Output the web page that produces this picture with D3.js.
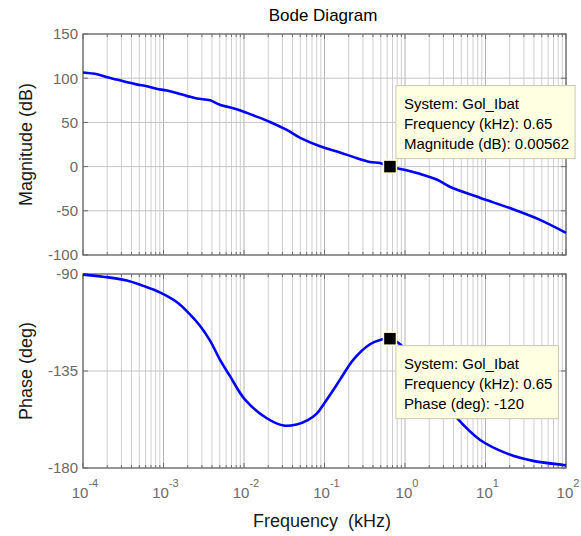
<!DOCTYPE html>
<html>
<head>
<meta charset="utf-8">
<script src="https://cdn.jsdelivr.net/npm/d3@7"></script>
<style>
  body { margin: 0; background: #fff; }
  svg { font-family: "Liberation Sans", Arial, sans-serif; }
</style>
</head>
<body>
<svg id="chart"></svg>
<script>
// frequency in kHz
let magFreq = [1e-4, 1.5e-4, 2e-4, 2.6e-4, 4.6e-4, 6.2e-4, 8.2e-4, 1.1e-3, 1.94e-3, 2.6e-3, 3.8e-3, 5e-3,
    8.1e-3, 0.013, 0.021, 0.034, 0.05, 0.088, 0.156, 0.226, 0.367, 0.49, 0.65, 0.87, 1.53, 2.48, 3.6,
    8.5, 22, 47.5, 100];
let magDb = [106.5, 104.5, 101, 98.5, 93, 91, 88, 86, 80, 77, 75, 70,
    65, 58, 50.5, 41.5, 32.5, 23, 16, 11, 5.3, 4, 0.00562, -2.6, -8.2, -14.6, -22.8,
    -35.2, -48.3, -60.3, -75];

let phaseFreq = [1e-4, 3.5e-4, 5.6e-4, 9e-4, 1.46e-3, 2.13e-3, 2.84e-3, 3.8e-3, 5e-3, 6.7e-3, 0.0103,
    0.019, 0.031, 0.045, 0.062, 0.08, 0.1, 0.125, 0.156, 0.23, 0.367, 0.49, 0.65, 0.87, 1.53, 2.5,
    4.4, 8.5, 18.3, 39, 93, 100];
let phaseDeg = [-90.3, -93, -95.5, -98.5, -103, -108.7, -114, -121, -129.6, -137.4, -148.3,
    -156.8, -160.3, -159.8, -157.8, -154.8, -149.8, -144.5, -139, -129.6, -122.6, -120.6, -120, -122.6,
    -133, -145, -156.8, -166.9, -173.2, -176.7, -178.6, -178.8];

let magTicks = [-100, -50, 0, 50, 100, 150];
let phaseTicks = [-180, -135, -90];
let decadeTicks = [-4, -3, -2, -1, 0, 1, 2];

let tipFreq = 0.65;
let tipMag = 0.00562;
let tipPhase = -120;
let magTipLines = ['System: Gol_Ibat', 'Frequency (kHz): 0.65', 'Magnitude (dB): 0.00562'];
let phaseTipLines = ['System: Gol_Ibat', 'Frequency (kHz): 0.65', 'Phase (deg): -120'];

let width = 581;
let height = 536;
let left = 83;
let right = 566;

let svg = d3.select('#chart').attr('width', width).attr('height', height);

let xScale = d3.scaleLog().domain([1e-4, 100]).range([left, right]);
let magScale = d3.scaleLinear().domain([-100, 150]).range([255, 34]);
let phaseScale = d3.scaleLinear().domain([-180, -90]).range([468, 274]);

// all minor + major frequencies
let gridFreqs = [];
for (let e = -4; e < 2; e++) {
    for (let m = 1; m < 10; m++) gridFreqs.push(m * Math.pow(10, e));
}
gridFreqs.push(100);

let isDecade = (d) => Math.abs(Math.log10(d) - Math.round(Math.log10(d))) < 1e-9;

let drawPanel = (yScale, ticks) => {
    let y0 = yScale.range()[0];
    let y1 = yScale.range()[1];
    let g = svg.append('g');

    // vertical grid
    g.selectAll('line.vgrid')
        .data(gridFreqs)
        .enter()
        .append('line')
        .attr('x1', (d) => xScale(d))
        .attr('x2', (d) => xScale(d))
        .attr('y1', y0)
        .attr('y2', y1)
        .attr('stroke', (d) => (isDecade(d) ? '#b4b4b4' : '#cfcfcf'))
        .attr('stroke-width', 1);

    // horizontal grid
    g.selectAll('line.hgrid')
        .data(ticks)
        .enter()
        .append('line')
        .attr('x1', left)
        .attr('x2', right)
        .attr('y1', (d) => yScale(d))
        .attr('y2', (d) => yScale(d))
        .attr('stroke', '#c4c4c4')
        .attr('stroke-width', 1);

    // minor ticks top and bottom
    [y0, y1].forEach((yy, i) => {
        let dir = i === 0 ? -1 : 1;
        g.selectAll(null)
            .data(gridFreqs)
            .enter()
            .append('line')
            .attr('x1', (d) => xScale(d))
            .attr('x2', (d) => xScale(d))
            .attr('y1', yy)
            .attr('y2', (d) => yy + dir * (isDecade(d) ? 5 : 3))
            .attr('stroke', '#6e6e6e');
    });

    // y ticks left and right
    [left, right].forEach((xx, i) => {
        let dir = i === 0 ? 1 : -1;
        g.selectAll(null)
            .data(ticks)
            .enter()
            .append('line')
            .attr('x1', xx)
            .attr('x2', xx + dir * 5)
            .attr('y1', (d) => yScale(d))
            .attr('y2', (d) => yScale(d))
            .attr('stroke', '#6e6e6e');
    });

    g.append('rect')
        .attr('x', left)
        .attr('y', y1)
        .attr('width', right - left)
        .attr('height', y0 - y1)
        .attr('fill', 'none')
        .attr('stroke', '#6e6e6e')
        .attr('stroke-width', 1.3);

    g.selectAll('text.ytick')
        .data(ticks)
        .enter()
        .append('text')
        .attr('x', left - 5)
        .attr('y', (d) => yScale(d))
        .attr('dy', '0.36em')
        .attr('text-anchor', 'end')
        .attr('font-size', 15)
        .attr('fill', '#6a6a6a')
        .text((d) => d);
};

drawPanel(magScale, magTicks);
drawPanel(phaseScale, phaseTicks);

let line = (yScale) => d3.line()
    .x((d) => xScale(d[0]))
    .y((d) => yScale(d[1]))
    .curve(d3.curveCatmullRom.alpha(0.5));

svg.append('path')
    .datum(d3.zip(magFreq, magDb))
    .attr('d', line(magScale))
    .attr('fill', 'none')
    .attr('stroke', '#0000ff')
    .attr('stroke-width', 2.6);

svg.append('path')
    .datum(d3.zip(phaseFreq, phaseDeg))
    .attr('d', line(phaseScale))
    .attr('fill', 'none')
    .attr('stroke', '#0000ff')
    .attr('stroke-width', 2.6);

// x tick labels 10^n
let xl = svg.selectAll('text.xtick')
    .data(decadeTicks)
    .enter()
    .append('text')
    .attr('x', (d) => xScale(Math.pow(10, d)) + 2)
    .attr('y', 498)
    .attr('text-anchor', 'middle')
    .attr('font-size', 15)
    .attr('fill', '#6a6a6a');
xl.append('tspan').text('10');
xl.append('tspan')
    .attr('dy', -11)
    .attr('font-size', 11)
    .text((d) => d);

// titles
svg.append('text')
    .attr('x', 323)
    .attr('y', 21)
    .attr('text-anchor', 'middle')
    .attr('font-size', 17)
    .attr('fill', '#000')
    .text('Bode Diagram');

svg.append('text')
    .attr('x', 322)
    .attr('y', 527)
    .attr('text-anchor', 'middle')
    .attr('font-size', 18)
    .attr('fill', '#1a1a1a')
    .attr('xml:space', 'preserve')
    .text('Frequency  (kHz)');

svg.append('text')
    .attr('transform', `translate(32, ${(magScale.range()[0] + magScale.range()[1]) / 2}) rotate(-90)`)
    .attr('text-anchor', 'middle')
    .attr('font-size', 18)
    .attr('fill', '#1a1a1a')
    .text('Magnitude (dB)');

svg.append('text')
    .attr('transform', `translate(32, ${(phaseScale.range()[0] + phaseScale.range()[1]) / 2}) rotate(-90)`)
    .attr('text-anchor', 'middle')
    .attr('font-size', 18)
    .attr('fill', '#1a1a1a')
    .text('Phase (deg)');

// data tips
let drawTip = (yScale, value, lines, offsetY) => {
    let mx = xScale(tipFreq);
    let my = yScale(value);
    let g = svg.append('g');
    let bx = mx + 6;
    let by = my + offsetY;
    let rect = g.append('rect')
        .attr('x', bx)
        .attr('y', by)
        .attr('height', 73)
        .attr('fill', '#ffffe1')
        .attr('stroke', '#c8c8b4')
        .attr('stroke-width', 1);
    let t = g.selectAll('text')
        .data(lines)
        .enter()
        .append('text')
        .attr('x', bx + 8)
        .attr('y', (d, i) => by + 23 + i * 20)
        .attr('font-size', 15)
        .attr('fill', '#000')
        .text((d) => d);
    let w = d3.max(t.nodes(), (n) => n.getComputedTextLength());
    rect.attr('width', w + 14);

    g.append('rect')
        .attr('x', mx - 6.5)
        .attr('y', my - 6.5)
        .attr('width', 13)
        .attr('height', 13)
        .attr('fill', '#000')
        .attr('stroke', '#fffbd0')
        .attr('stroke-width', 1.5);
};

drawTip(magScale, tipMag, magTipLines, -81);
drawTip(phaseScale, tipPhase, phaseTipLines, 7);
</script>
</body>
</html>
